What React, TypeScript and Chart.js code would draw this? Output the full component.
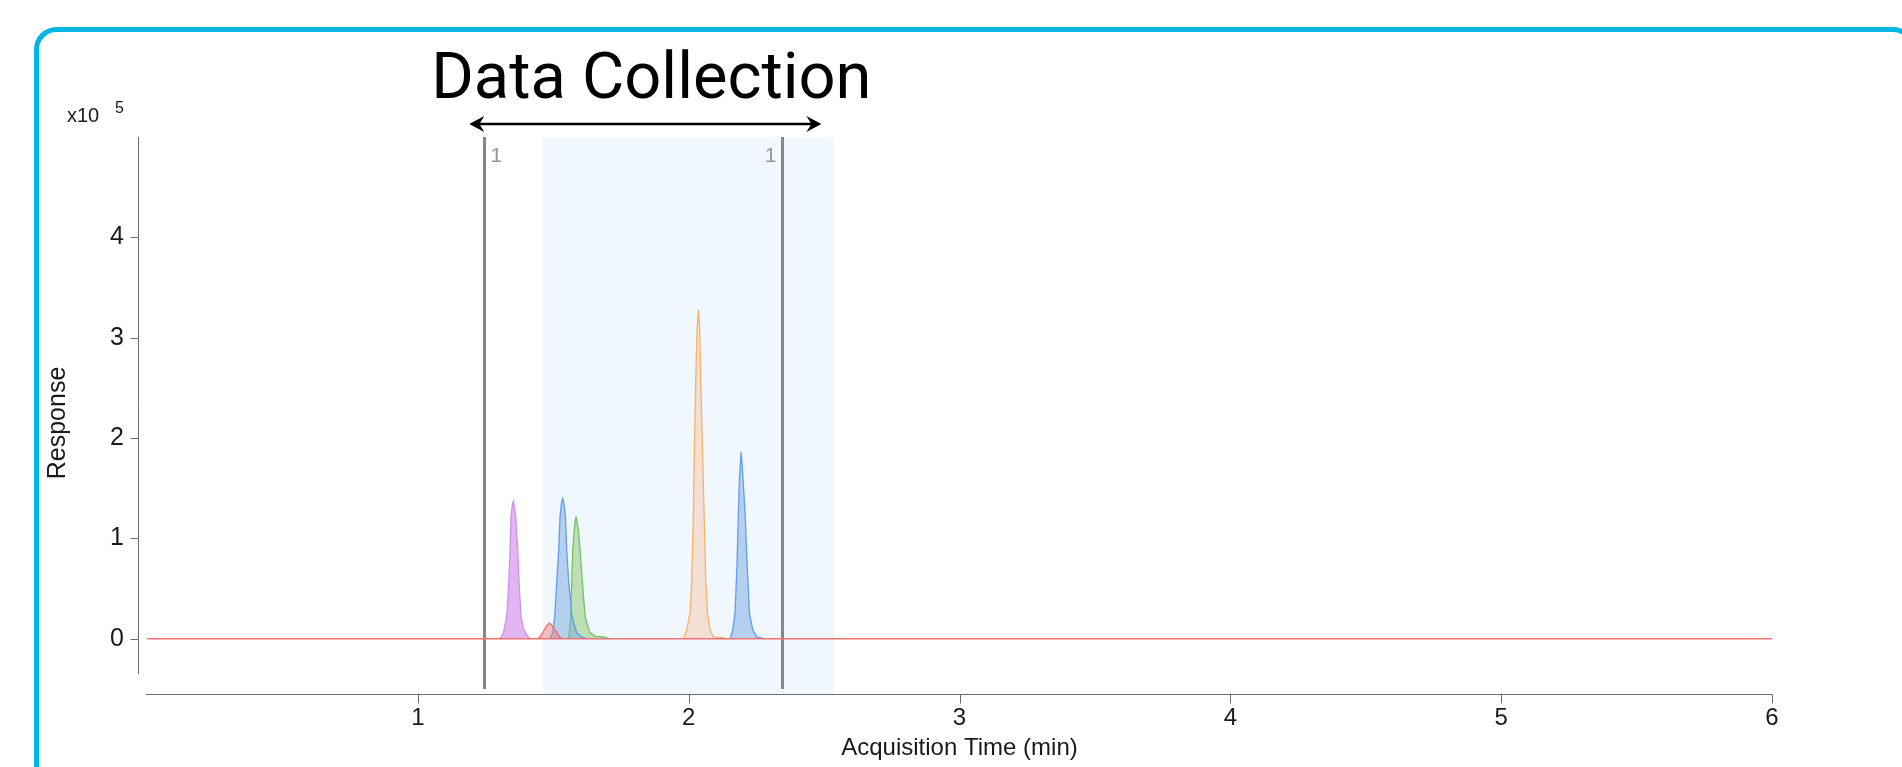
import React, { useEffect, useRef } from 'react';
import { Chart, registerables } from 'chart.js';

Chart.register(...registerables);

// ---------- DATA ----------
const xTickValues = [1, 2, 3, 4, 5, 6];
const yTickValues = [0, 1, 2, 3, 4];
const xRange = [0, 6];
const yRange = [-0.35, 5.0];

// [time (min), response (x10^5)]
const purplePeak: [number, number][] = [
  [1.3035, 0], [1.3158, 0.06], [1.3282, 0.22], [1.3356, 0.56], [1.3405, 0.89], [1.3442, 1.22],
  [1.3495, 1.35], [1.3527, 1.37], [1.3565, 1.32], [1.3614, 1.22], [1.3688, 0.89], [1.3737, 0.56],
  [1.3811, 0.22], [1.3900, 0.1], [1.4021, 0.04], [1.4143, 0],
];
const redPeak: [number, number][] = [
  [1.4414, 0], [1.4520, 0.02], [1.4635, 0.073], [1.4750, 0.13], [1.4857, 0.157],
  [1.4960, 0.13], [1.5103, 0.073], [1.5230, 0.02], [1.5350, 0],
];
const bluePeak1: [number, number][] = [
  [1.4882, 0], [1.4980, 0.06], [1.5054, 0.22], [1.5128, 0.56], [1.5202, 0.89], [1.5251, 1.22],
  [1.5310, 1.37], [1.5350, 1.40], [1.5390, 1.36], [1.5448, 1.22], [1.5497, 0.89], [1.5571, 0.56],
  [1.5694, 0.22], [1.5867, 0.06], [1.6050, 0.02], [1.6236, 0],
];
const greenPeak: [number, number][] = [
  [1.5550, 0], [1.5596, 0.06], [1.5645, 0.22], [1.5682, 0.56], [1.5719, 0.89], [1.5768, 1.05],
  [1.5810, 1.18], [1.5842, 1.21], [1.5880, 1.17], [1.5941, 1.05], [1.5990, 0.89], [1.6076, 0.56],
  [1.6174, 0.22], [1.6359, 0.06], [1.6550, 0.025], [1.6850, 0.02], [1.7098, 0],
];
const orangePeak: [number, number][] = [
  [1.9806, 0], [1.9929, 0.09], [2.0052, 0.256], [2.0113, 0.589], [2.0175, 1.254], [2.0212, 1.92],
  [2.0261, 2.58], [2.0310, 3.08], [2.0359, 3.28], [2.0409, 3.08], [2.0446, 2.58], [2.0507, 1.92],
  [2.0569, 1.254], [2.0630, 0.589], [2.0692, 0.256], [2.0790, 0.09], [2.0913, 0.02], [2.1200, 0.015],
  [2.1466, 0],
];
const bluePeak2: [number, number][] = [
  [2.1529, 0], [2.1627, 0.09], [2.1713, 0.256], [2.1787, 0.755], [2.1836, 1.254], [2.1873, 1.586],
  [2.1935, 1.86], [2.1970, 1.75], [2.2009, 1.586], [2.2083, 1.254], [2.2157, 0.755], [2.2243, 0.256],
  [2.2366, 0.09], [2.2514, 0.02], [2.2821, 0],
];
const baseline: [number, number][] = [[0, 0], [6, 0]];

const markerTimes = [1.245, 2.345];
const markerLabels = ['1', '1'];
const windowRange = [1.462, 2.537];
const arrowRange = [1.19, 2.49];
const titleText = 'Data Collection';
const xTitle = 'Acquisition Time (min)';
const yTitle = 'Response';
const exponentBase = 'x10';
const exponentPower = '5';

// ---------- STYLE ----------
const FONT = '"Liberation Sans", Arial, Helvetica, sans-serif';

const toPts = (arr: [number, number][]) => arr.map(([x, y]) => ({ x, y }));

const peakSeries = [
  { data: purplePeak, line: 'rgb(208,145,236)', fill: 'rgba(200,120,232,0.55)' },
  { data: redPeak, line: 'rgb(240,105,105)', fill: 'rgba(245,120,120,0.45)' },
  { data: bluePeak1, line: 'rgb(95,158,235)', fill: 'rgba(120,170,222,0.5)' },
  { data: greenPeak, line: 'rgb(112,196,100)', fill: 'rgba(140,200,110,0.5)' },
  { data: orangePeak, line: 'rgb(246,178,104)', fill: 'rgba(246,200,168,0.5)' },
  { data: bluePeak2, line: 'rgb(95,158,235)', fill: 'rgba(120,170,222,0.5)' },
];

const decor = {
  id: 'decor',
  beforeDraw(chart: any) {
    const ctx = chart.ctx as CanvasRenderingContext2D;
    const xs = chart.scales.x;
    const area = chart.chartArea;
    const axisY = area.bottom + 20;
    ctx.save();
    ctx.fillStyle = '#ffffff';
    ctx.fillRect(0, 0, chart.width, chart.height);
    // frame
    ctx.strokeStyle = '#00b5e6';
    ctx.lineWidth = 5;
    ctx.beginPath();
    (ctx as any).roundRect(36.5, 29.5, 1913 - 36.5, 900, 20);
    ctx.stroke();
    // shaded collection window
    const w0 = xs.getPixelForValue(windowRange[0]);
    const w1 = xs.getPixelForValue(windowRange[1]);
    ctx.fillStyle = 'rgb(240,247,254)';
    ctx.fillRect(w0, area.top, w1 - w0, axisY - area.top);
    // marker lines
    markerTimes.forEach((t, i) => {
      const px = Math.round(xs.getPixelForValue(t)) + 0.5;
      ctx.strokeStyle = 'rgb(135,135,135)';
      ctx.lineWidth = 3;
      ctx.beginPath();
      ctx.moveTo(px, area.top);
      ctx.lineTo(px, area.bottom + 15);
      ctx.stroke();
      ctx.fillStyle = 'rgb(150,150,150)';
      ctx.font = `21px ${FONT}`;
      ctx.textBaseline = 'alphabetic';
      if (i === 0) {
        ctx.textAlign = 'left';
        ctx.fillText(markerLabels[i], px + 6, area.top + 25);
      } else {
        ctx.textAlign = 'right';
        ctx.fillText(markerLabels[i], px - 6, area.top + 25);
      }
    });
    ctx.restore();
  },
  afterDraw(chart: any) {
    const ctx = chart.ctx as CanvasRenderingContext2D;
    const xs = chart.scales.x;
    const ys = chart.scales.y;
    const area = chart.chartArea;
    ctx.save();
    // y axis line + ticks
    const axX = area.left - 8.5;
    ctx.strokeStyle = 'rgb(110,110,110)';
    ctx.lineWidth = 1;
    ctx.beginPath();
    ctx.moveTo(axX, area.top);
    ctx.lineTo(axX, area.bottom);
    yTickValues.forEach((v) => {
      const py = Math.round(ys.getPixelForValue(v)) + 0.5;
      ctx.moveTo(axX - 8, py);
      ctx.lineTo(axX, py);
    });
    ctx.stroke();
    // x axis line + ticks
    const axY = area.bottom + 20.5;
    ctx.beginPath();
    ctx.moveTo(area.left - 1, axY);
    ctx.lineTo(area.right, axY);
    xTickValues.forEach((v) => {
      const px = Math.round(xs.getPixelForValue(v)) + 0.5;
      ctx.moveTo(px, axY);
      ctx.lineTo(px, axY + 9);
    });
    ctx.stroke();
    // y title
    ctx.fillStyle = '#1a1a1a';
    ctx.font = `25px ${FONT}`;
    ctx.textAlign = 'center';
    ctx.textBaseline = 'middle';
    ctx.translate(58, 423);
    ctx.rotate(-Math.PI / 2);
    ctx.fillText(yTitle, 0, 0);
    ctx.setTransform(1, 0, 0, 1, 0, 0);
    // exponent
    ctx.textAlign = 'left';
    ctx.textBaseline = 'alphabetic';
    ctx.font = `20px ${FONT}`;
    ctx.fillText(exponentBase, 67, 121.5);
    ctx.font = `16px ${FONT}`;
    ctx.fillText(exponentPower, 115, 113);
    // arrow
    const a0 = xs.getPixelForValue(arrowRange[0]);
    const a1 = xs.getPixelForValue(arrowRange[1]);
    const ay = 124;
    ctx.strokeStyle = '#000';
    ctx.fillStyle = '#000';
    ctx.lineWidth = 2.5;
    ctx.beginPath();
    ctx.moveTo(a0 + 6, ay);
    ctx.lineTo(a1 - 6, ay);
    ctx.stroke();
    const head = (tip: number, dir: number) => {
      ctx.beginPath();
      ctx.moveTo(tip, ay);
      ctx.lineTo(tip + dir * 15, ay - 8);
      ctx.lineTo(tip + dir * 10, ay);
      ctx.lineTo(tip + dir * 15, ay + 8);
      ctx.closePath();
      ctx.fill();
    };
    head(a0, 1);
    head(a1, -1);
    // title
    ctx.font = `400 65px Roboto, ${FONT}`;
    ctx.textAlign = 'center';
    ctx.fillText(titleText, (a0 + a1) / 2 + 6, 98);
    ctx.restore();
  },
};

export default function App() {
  const ref = useRef<HTMLCanvasElement>(null);
  useEffect(() => {
    const datasets: any[] = [
      {
        data: toPts(baseline),
        borderColor: 'rgb(242,115,115)',
        borderWidth: 1.5,
        fill: false,
        pointRadius: 0,
      },
      ...peakSeries.map((s) => ({
        data: toPts(s.data),
        borderColor: s.line,
        backgroundColor: s.fill,
        borderWidth: 1.3,
        fill: 'origin',
        pointRadius: 0,
        tension: 0,
      })),
    ];
    const chart = new Chart(ref.current as HTMLCanvasElement, {
      type: 'line',
      data: { datasets },
      options: {
        animation: false,
        responsive: false,
        parsing: false as any,
        layout: { padding: { left: 0, right: 130, top: 137, bottom: 0 } },
        plugins: { legend: { display: false }, tooltip: { enabled: false }, title: { display: false } },
        scales: {
          x: {
            type: 'linear',
            min: xRange[0],
            max: xRange[1],
            afterFit: (s: any) => { s.height = 93; },
            afterBuildTicks: (s: any) => { s.ticks = xTickValues.map((v) => ({ value: v })); },
            grid: { display: false, drawTicks: false },
            border: { display: false },
            ticks: { padding: 30, font: { family: FONT, size: 24 }, color: '#1a1a1a', maxRotation: 0, autoSkip: false },
            title: { display: true, text: xTitle, font: { family: FONT, size: 24 }, color: '#1a1a1a', padding: { top: 0, bottom: 4 } },
          },
          y: {
            type: 'linear',
            min: yRange[0],
            max: yRange[1],
            afterFit: (s: any) => { s.width = 147; },
            afterBuildTicks: (s: any) => { s.ticks = yTickValues.map((v) => ({ value: v })); },
            grid: { display: false, drawTicks: false },
            border: { display: false },
            ticks: { padding: 23, font: { family: FONT, size: 25 }, color: '#1a1a1a' },
          },
        },
      } as any,
      plugins: [decor],
    });
    return () => chart.destroy();
  }, []);
  return (
    <div style={{ position: 'fixed', left: 0, top: 0, width: 1902, height: 767, background: '#fff', overflow: 'hidden' }}>
      <canvas ref={ref} width={1902} height={767} style={{ width: 1902, height: 767, display: 'block' }} />
    </div>
  );
}
